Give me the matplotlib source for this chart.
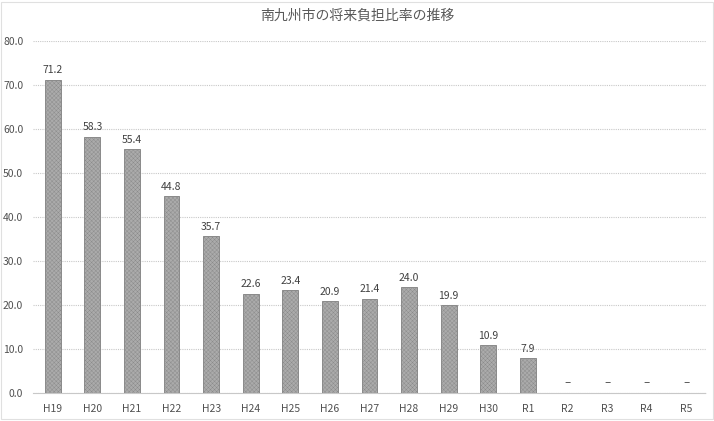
import matplotlib
matplotlib.use("Agg")
import matplotlib.pyplot as plt
import numpy as np

plt.rcParams['font.family'] = ['Noto Sans CJK JP', 'DejaVu Sans']
plt.rcParams['hatch.linewidth'] = 0.3

categories = ["H19", "H20", "H21", "H22", "H23", "H24", "H25", "H26", "H27", "H28",
              "H29", "H30", "R1", "R2", "R3", "R4", "R5"]
values = [71.2, 58.3, 55.4, 44.8, 35.7, 22.6, 23.4, 20.9, 21.4, 24.0,
          19.9, 10.9, 7.9, None, None, None, None]
yticks = [0, 10, 20, 30, 40, 50, 60, 70, 80]
title = "南九州市の将来負担比率の推移"

fig = plt.figure(figsize=(7.14, 4.21), dpi=100)
ax = fig.add_axes([0.0462, 0.0665, 0.9426, 0.836])

x = np.arange(len(categories))
hv = [v if v is not None else 0 for v in values]
ax.bar(x, hv, width=0.4, facecolor='#ababab', edgecolor='#8a8a8a',
       hatch='xxxxxxxx', linewidth=0.7, zorder=3)

for xi, v in zip(x, values):
    if v is None:
        ax.text(xi, 1.0, "–", ha='center', va='bottom', fontsize=9, color='#595959',
                family=['DejaVu Sans'])
    else:
        ax.text(xi, v + 1.0, f"{v:.1f}", ha='center', va='bottom', fontsize=7.5, color='#404040')

ax.set_xlim(-0.5, len(categories) - 0.5)
ax.set_ylim(0, 80)
ax.set_yticks(yticks)
ax.set_yticklabels([f"{t:.1f}" for t in yticks])
ax.set_xticks(x)
ax.set_xticklabels(categories)
ax.tick_params(axis='both', length=0, labelsize=7.5, colors='#505050')
ax.tick_params(axis='x', pad=8)
ax.tick_params(axis='y', pad=7)
ax.yaxis.grid(True, linestyle=(0, (1, 1)), color='#c8c8c8', linewidth=0.8, zorder=0)
for s in ['top', 'right', 'left']:
    ax.spines[s].set_visible(False)
ax.spines['bottom'].set_color('#c8c8c8')
ax.spines['bottom'].set_linestyle((0, (1, 1)))
ax.set_facecolor('white')

fig.text(0.5, 0.963, title, ha='center', va='center', fontsize=10, color='#595959')
fig.add_artist(plt.Rectangle((0.002, 0.004), 0.996, 0.992, transform=fig.transFigure,
                             fill=False, edgecolor='#e0e0e0', linewidth=0.8))

fig.savefig("out.png", dpi=100)
